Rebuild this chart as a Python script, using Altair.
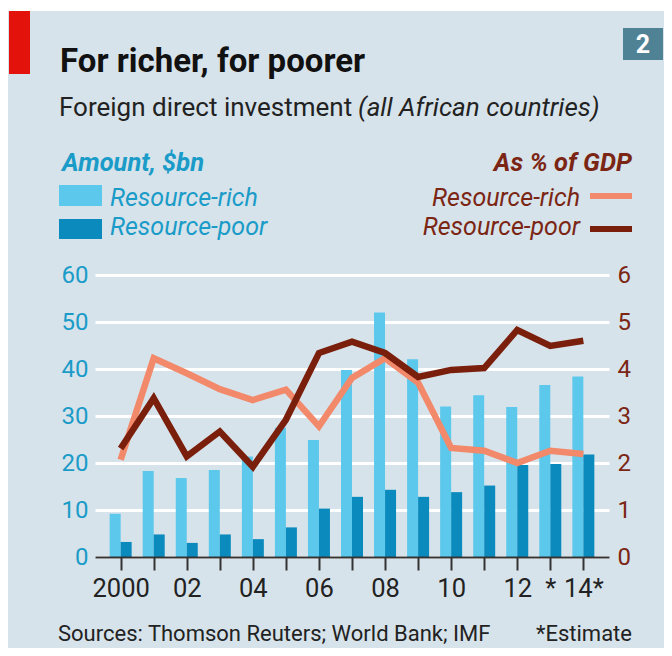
import altair as alt
import pandas as pd

# ---- data ----
years = list(range(2000, 2015))
tick_labels = ["2000", "", "02", "", "04", "", "06", "", "08", "", "10", "", "12", "*", "14*"]
rich_bn = [9.2, 18.3, 16.8, 18.5, 21.4, 27.5, 24.9, 39.8, 52.0, 42.1, 32.0, 34.4, 31.9, 36.6, 38.4]
poor_bn = [3.2, 4.8, 3.0, 4.8, 3.8, 6.3, 10.3, 12.8, 14.3, 12.8, 13.8, 15.2, 19.6, 19.8, 21.8]
rich_gdp = [2.07, 4.23, 3.91, 3.57, 3.34, 3.56, 2.78, 3.81, 4.23, 3.71, 2.32, 2.26, 2.00, 2.26, 2.19]
poor_gdp = [2.31, 3.38, 2.14, 2.67, 1.92, 2.92, 4.34, 4.58, 4.34, 3.83, 3.98, 4.02, 4.83, 4.49, 4.60]
bn_ticks = [0, 10, 20, 30, 40, 50, 60]
gdp_ticks = [0, 1, 2, 3, 4, 5, 6]

df = pd.DataFrame({"year": years, "rich_bn": rich_bn, "poor_bn": poor_bn,
                   "rich_gdp": rich_gdp, "poor_gdp": poor_gdp})

BG = "#d7e3ea"
LIGHT = "#5cc8ec"
DARK = "#0b8bbd"
ORANGE = "#f2896a"
BROWN = "#7a1f0c"
BLUE_TXT = "#1a9bc8"
BROWN_TXT = "#7b2614"
FONT = "Roboto"

W, H = 514, 282

xscale = alt.Scale(domain=[1999.375, 2014.625], nice=False, zero=False)
label_expr = "[" + ",".join("'%s'" % t for t in tick_labels) + "][round(datum.value) - 2000]"

x_axis = alt.Axis(values=years, labelExpr=label_expr, title=None, grid=False,
                  domainColor="#333333", domainWidth=2, ticks=True, tickColor="#333333",
                  tickWidth=2, tickSize=13, labelFontSize=25.5, labelColor="#222222",
                  labelFont=FONT, labelPadding=6, labelFlush=False,
                  labelOverlap=False, labelBound=False, zindex=1)

y_left = alt.Axis(values=bn_ticks, title=None, grid=True, gridColor="white",
                  gridWidth=3, ticks=False, tickSize=0, domain=False,
                  labelFontSize=24, labelColor=BLUE_TXT, labelFont=FONT,
                  labelPadding=7, labelOverlap=False)
y_right = alt.Axis(values=gdp_ticks, title=None, grid=False, ticks=False,
                   tickSize=0, domain=False, orient="right", labelFontSize=24,
                   labelColor=BROWN_TXT, labelFont=FONT, labelPadding=8,
                   labelOverlap=False)

bn_scale = alt.Scale(domain=[0, 60], nice=False)
gdp_scale = alt.Scale(domain=[0, 6], nice=False)

base = alt.Chart(df)
bar_light = base.mark_bar(width=11, xOffset=-5.5, color=LIGHT).encode(
    x=alt.X("year:Q", scale=xscale, axis=x_axis),
    y=alt.Y("rich_bn:Q", scale=bn_scale, axis=y_left),
)
bar_dark = base.mark_bar(width=11, xOffset=5.5, color=DARK).encode(
    x=alt.X("year:Q", scale=xscale, axis=x_axis),
    y=alt.Y("poor_bn:Q", scale=bn_scale, axis=y_left),
)
line_rich = base.mark_line(color=ORANGE, strokeWidth=6.5, strokeJoin="miter").encode(
    x=alt.X("year:Q", scale=xscale, axis=x_axis),
    y=alt.Y("rich_gdp:Q", scale=gdp_scale, axis=y_right),
)
line_poor = base.mark_line(color=BROWN, strokeWidth=6.5, strokeJoin="miter").encode(
    x=alt.X("year:Q", scale=xscale, axis=x_axis),
    y=alt.Y("poor_gdp:Q", scale=gdp_scale, axis=y_right),
)

bars = alt.layer(bar_light, bar_dark)
lines = alt.layer(line_rich, line_poor)


def txt(s, x, y, size, color="#111111", align="left", style="normal", weight="normal"):
    return alt.Chart(pd.DataFrame({"t": [s]})).mark_text(
        align=align, baseline="alphabetic", fontSize=size, color=color,
        font=FONT, fontStyle=style, fontWeight=weight,
    ).encode(x=alt.value(x), y=alt.value(y), text="t:N")


def box(x1, x2, y1, y2, color):
    return alt.Chart(pd.DataFrame({"a": [0]})).mark_rect(color=color).encode(
        x=alt.value(x1), x2=alt.value(x2), y=alt.value(y1), y2=alt.value(y2))


def seg(x1, x2, y, color):
    return alt.Chart(pd.DataFrame({"a": [0]})).mark_rule(
        color=color, strokeWidth=6).encode(
        x=alt.value(x1), x2=alt.value(x2), y=alt.value(y))


decor = [
    box(-87, 570, -267, -264, "white"),
    box(-86, -65, -264, -201, "#e3120b"),
    box(528, 568, -247, -215, "#4f8295"),
    txt("2", 548, -222, 25, color="white", align="center", weight="bold"),
    txt("For richer, for poorer", -35, -203, 33, weight="bold"),
    txt("Foreign direct investment", -36, -159, 26, color="#222222"),
    txt("(all African countries)", 263, -159, 26, color="#222222", style="italic"),
    txt("Amount, $bn", -33, -104, 25.5, color=BLUE_TXT, style="italic", weight="bold"),
    box(-36, 7, -90, -69, LIGHT),
    txt("Resource-rich", 15, -69, 25, color=BLUE_TXT, style="italic"),
    box(-36, 7, -56, -36, DARK),
    txt("Resource-poor", 15, -40, 25, color=BLUE_TXT, style="italic"),
    txt("As % of GDP", 537, -104, 25.5, color=BROWN_TXT, style="italic",
        weight="bold", align="right"),
    txt("Resource-rich", 485, -69, 25, color=BROWN_TXT, style="italic", align="right"),
    seg(495, 537, -79, ORANGE),
    txt("Resource-poor", 485, -40, 25, color=BROWN_TXT, style="italic", align="right"),
    seg(495, 537, -46, BROWN),
    txt("Sources: Thomson Reuters; World Bank; IMF", -37, 366, 22, color="#222222"),
    txt("*Estimate", 537, 366, 22, color="#222222", align="right"),
]

chart = alt.layer(bars, lines, *decor).resolve_scale(y="independent").properties(
    width=W, height=H,
    autosize=alt.AutoSizeParams(type="none"),
    padding={"left": 87, "top": 267, "right": 55, "bottom": 91},
    background=BG,
).configure_view(stroke=None)

chart.save("out.html", embed_options={"renderer": "svg", "actions": False})
